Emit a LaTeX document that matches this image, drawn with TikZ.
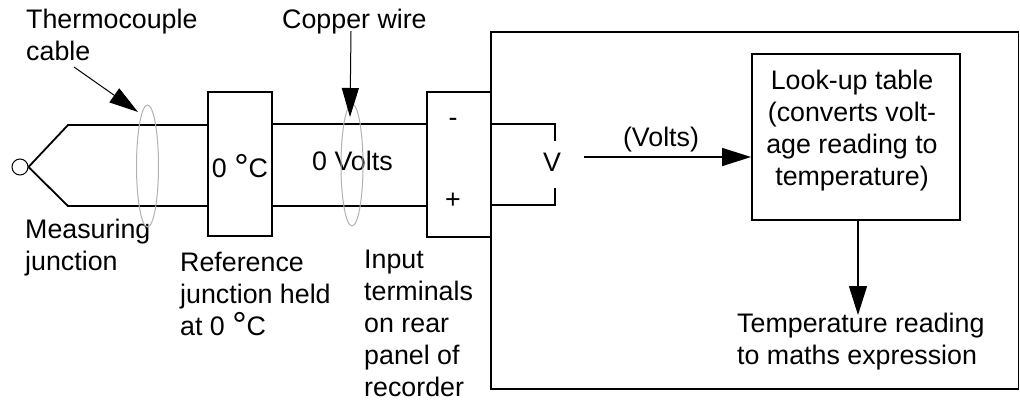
\documentclass[tikz,border=0pt]{standalone}
\usepackage{fontspec}
\setmainfont{Liberation Sans}
\usetikzlibrary{arrows.meta,shapes.geometric}
\newcommand{\bigdeg}{\raisebox{-2pt}{\fontsize{36}{36}\selectfont °}}
\tikzset{
  wire/.style={line width=1.8pt,black},
  ring/.style={draw=black!30,line width=1pt,ellipse,minimum width=22pt,minimum height=122pt,inner sep=0pt},
  lbl/.style={font=\fontsize{26.8}{32}\selectfont,inner sep=0pt,align=left,text=black},
  pointer/.style={line width=1pt,-{Triangle[length=29pt,width=17pt]}},
  pointerb/.style={line width=1.4pt,-{Triangle[length=29pt,width=18pt]}},
  box/.style={draw,wire,inner sep=0pt}
}
\begin{document}
\begin{tikzpicture}[x=1pt,y=-1pt]
\useasboundingbox (0,0) rectangle (1020,399);
\fill[white] (0,0) rectangle (1020,399);
% measuring junction
\node[draw,circle,line width=1pt,minimum size=16pt,inner sep=0pt] (junc) at (20,167) {};
\coordinate (tk1) at (68,125);
\coordinate (tk2) at (68,206);
\node[box,minimum width=64pt,minimum height=144pt] (ref) at (240,164) {};
\node[box,minimum width=64pt,minimum height=145pt] (term) at (459,164.5) {};
\node[box,minimum width=527.5pt,minimum height=357pt] (rec) at (754.75,210.5) {};
\node[box,minimum width=208pt,minimum height=166pt] (lut) at (856,137) {};
\draw[wire] (junc.east) -- (tk1) -- (tk1-|ref.west);
\draw[wire] (junc.east) -- (tk2) -- (tk2-|ref.west);
\coordinate (c1) at (272,124);
\coordinate (c2) at (272,206);
\draw[wire] (c1) -- (c1-|term.west);
\draw[wire] (c2) -- (c2-|term.west);
% voltmeter
\node[lbl,anchor=base] (vm) at (552,171) {V};
\coordinate (v0a) at (491,124);
\coordinate (v0b) at (491,205);
\coordinate (v1) at (555,124);
\coordinate (v2) at (555,205);
\coordinate (v1e) at (555,141);
\coordinate (v2e) at (555,188);
\draw[wire] (v0a) -- (v1) -- (v1e);
\draw[wire] (v0b) -- (v2) -- (v2e);
% texts
\node[lbl,anchor=base west] (t0a) at (26,28) {Thermocouple};
\node[lbl,anchor=base west] (t0b) at (26,60) {cable};
\node[lbl,anchor=base west] (t1) at (282,28) {Copper wire};
\node[lbl,anchor=base] (t2) at (240,177) {0 \bigdeg C};
\node[lbl,anchor=base west] (t3) at (312,170) {0 Volts};
\node[lbl,anchor=base] (minus) at (453,126) {-};
\node[lbl,anchor=base] (plus) at (453,208) {+};
\node[lbl,anchor=base] (volts) at (661,146) {(Volts)};
\node[lbl,anchor=north,align=center] (lt) at (852,70) {Look-up table\\(converts volt-\\age reading to\\temperature)};
\node[lbl,anchor=north west] (t4) at (25,219) {Measuring\\junction};
\node[lbl,anchor=north west] (t5) at (180,252) {Reference\\junction held\\at 0 \bigdeg C};
\node[lbl,anchor=north west] (t6) at (364,250) {Input\\terminals\\on rear\\panel of\\recorder};
\node[lbl,anchor=north west] (t7) at (737,313) {Temperature reading\\to maths expression};
% rings
\node[ring] (r1) at (147.5,166) {};
\node[ring] (r2) at (352,165) {};
% connectors
\coordinate (pa) at (74,67);
\coordinate (pb) at (138,112);
\draw[pointer] (pa) -- (pb);
\coordinate (pc) at (351,31);
\coordinate (pd) at (350,117);
\draw[pointer] (pc) -- (pd);
\coordinate (vs) at (584,157);
\draw[pointerb] (vs) -- (lut.west|-vs);
\coordinate (od) at (858,315);
\draw[pointerb] (lut.south-|od) -- (od);
\end{tikzpicture}
\end{document}
